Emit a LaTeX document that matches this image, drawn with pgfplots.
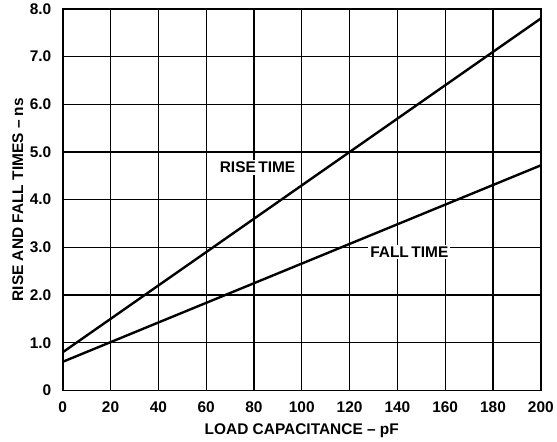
\documentclass[border=0pt]{standalone}
\usepackage{pgfplots}
\pgfplotsset{compat=1.18}
\usepackage{fontspec}
\setmainfont{Liberation Sans}
\newfontfamily\lbold[Ligatures=TeX]{Liberation Sans Bold}
\newcommand\lbl{\fontsize{15.5}{18}\lbold}
\begin{document}
\begin{tikzpicture}
\begin{axis}[
    scale only axis,
    width=480pt, height=383pt,
    xmin=0, xmax=200, ymin=0, ymax=8,
    xtick={0,20,...,200},
    ytick={0,1,...,8},
    yticklabels={0,1.0,2.0,3.0,4.0,5.0,6.0,7.0,8.0},
    major tick length=0pt,
    grid=major,
    grid style={black, line width=1.2pt},
    axis line style={black, line width=1.8pt},
    tick label style={font=\lbl},
    /pgf/number format/assume math mode=true,
    xticklabel style={yshift=-8pt},
    yticklabel style={xshift=-8pt},
    label style={font=\lbl},
    xlabel={LOAD CAPACITANCE -- pF},
    ylabel={RISE AND FALL TIMES -- ns},
    xlabel style={at={(rel axis cs:0.5,0)}, anchor=center, yshift=-40pt},
    ylabel style={at={(rel axis cs:0,0.5)}, anchor=center, yshift=45pt},
    clip=false,
]
\addplot[black, line width=2.4pt] coordinates {(0,0.8) (200,7.8)};
\addplot[black, line width=2.4pt] coordinates {(0,0.6) (200,4.72)};
\node[fill=white, inner sep=2pt, font=\lbl] at (axis cs:81.5,4.68) {RISE\,TIME};
\node[fill=white, inner sep=2pt, font=\lbl] at (axis cs:145,2.9) {FALL\,TIME};
\path (rel axis cs:0,0) ++(-63pt,-51pt);
\path (rel axis cs:1,1) ++(14pt,9pt);
\end{axis}
\end{tikzpicture}
\end{document}
